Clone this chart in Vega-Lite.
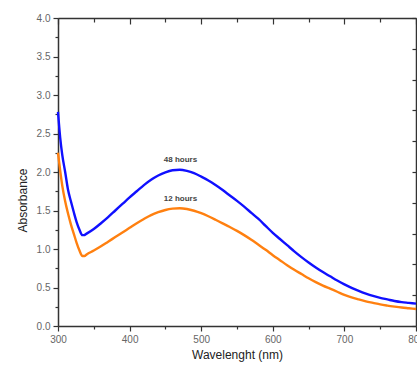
{
  "$schema": "https://vega.github.io/schema/vega-lite/v6.json",
  "width": 358,
  "height": 308,
  "autosize": {"type": "none"},
  "padding": {"left": 58, "top": 18, "right": 1, "bottom": 43},
  "background": "white",
  "config": {
    "view": {"stroke": null},
    "font": "Liberation Sans",
    "axis": {"domainColor": "#333", "domainWidth": 1.5, "tickColor": "#333", "tickWidth": 1.2, "labelColor": "#666", "labelFontSize": 10, "labelFlush": false, "labelOverlap": false, "labelFont": "Liberation Sans", "titleFont": "Liberation Sans", "titleFontSize": 12, "titleFontWeight": "normal", "titleColor": "#222", "grid": false}
  },
  "datasets": {
    "spectra": [
      {"wl": 300, "abs": 2.78, "series": "48 hours"},
      {"wl": 303, "abs": 2.45, "series": "48 hours"},
      {"wl": 306, "abs": 2.22, "series": "48 hours"},
      {"wl": 310, "abs": 2.0, "series": "48 hours"},
      {"wl": 314, "abs": 1.77, "series": "48 hours"},
      {"wl": 318, "abs": 1.62, "series": "48 hours"},
      {"wl": 322, "abs": 1.48, "series": "48 hours"},
      {"wl": 326, "abs": 1.35, "series": "48 hours"},
      {"wl": 330, "abs": 1.25, "series": "48 hours"},
      {"wl": 334, "abs": 1.18, "series": "48 hours"},
      {"wl": 336, "abs": 1.18, "series": "48 hours"},
      {"wl": 340, "abs": 1.2, "series": "48 hours"},
      {"wl": 350, "abs": 1.26, "series": "48 hours"},
      {"wl": 360, "abs": 1.335, "series": "48 hours"},
      {"wl": 370, "abs": 1.415, "series": "48 hours"},
      {"wl": 380, "abs": 1.5, "series": "48 hours"},
      {"wl": 390, "abs": 1.585, "series": "48 hours"},
      {"wl": 400, "abs": 1.67, "series": "48 hours"},
      {"wl": 410, "abs": 1.75, "series": "48 hours"},
      {"wl": 420, "abs": 1.83, "series": "48 hours"},
      {"wl": 430, "abs": 1.9, "series": "48 hours"},
      {"wl": 440, "abs": 1.955, "series": "48 hours"},
      {"wl": 450, "abs": 1.995, "series": "48 hours"},
      {"wl": 460, "abs": 2.022, "series": "48 hours"},
      {"wl": 470, "abs": 2.03, "series": "48 hours"},
      {"wl": 480, "abs": 2.015, "series": "48 hours"},
      {"wl": 490, "abs": 1.985, "series": "48 hours"},
      {"wl": 500, "abs": 1.94, "series": "48 hours"},
      {"wl": 510, "abs": 1.89, "series": "48 hours"},
      {"wl": 520, "abs": 1.83, "series": "48 hours"},
      {"wl": 530, "abs": 1.765, "series": "48 hours"},
      {"wl": 540, "abs": 1.695, "series": "48 hours"},
      {"wl": 550, "abs": 1.625, "series": "48 hours"},
      {"wl": 560, "abs": 1.55, "series": "48 hours"},
      {"wl": 570, "abs": 1.47, "series": "48 hours"},
      {"wl": 580, "abs": 1.39, "series": "48 hours"},
      {"wl": 590, "abs": 1.3, "series": "48 hours"},
      {"wl": 600, "abs": 1.21, "series": "48 hours"},
      {"wl": 610, "abs": 1.13, "series": "48 hours"},
      {"wl": 620, "abs": 1.05, "series": "48 hours"},
      {"wl": 630, "abs": 0.97, "series": "48 hours"},
      {"wl": 640, "abs": 0.895, "series": "48 hours"},
      {"wl": 650, "abs": 0.825, "series": "48 hours"},
      {"wl": 660, "abs": 0.76, "series": "48 hours"},
      {"wl": 670, "abs": 0.7, "series": "48 hours"},
      {"wl": 680, "abs": 0.645, "series": "48 hours"},
      {"wl": 690, "abs": 0.59, "series": "48 hours"},
      {"wl": 700, "abs": 0.54, "series": "48 hours"},
      {"wl": 710, "abs": 0.495, "series": "48 hours"},
      {"wl": 720, "abs": 0.455, "series": "48 hours"},
      {"wl": 730, "abs": 0.42, "series": "48 hours"},
      {"wl": 740, "abs": 0.39, "series": "48 hours"},
      {"wl": 750, "abs": 0.365, "series": "48 hours"},
      {"wl": 760, "abs": 0.345, "series": "48 hours"},
      {"wl": 770, "abs": 0.325, "series": "48 hours"},
      {"wl": 780, "abs": 0.31, "series": "48 hours"},
      {"wl": 790, "abs": 0.3, "series": "48 hours"},
      {"wl": 800, "abs": 0.29, "series": "48 hours"},
      {"wl": 300, "abs": 2.25, "series": "12 hours"},
      {"wl": 303, "abs": 2.02, "series": "12 hours"},
      {"wl": 306, "abs": 1.82, "series": "12 hours"},
      {"wl": 310, "abs": 1.62, "series": "12 hours"},
      {"wl": 314, "abs": 1.46, "series": "12 hours"},
      {"wl": 318, "abs": 1.32, "series": "12 hours"},
      {"wl": 322, "abs": 1.2, "series": "12 hours"},
      {"wl": 326, "abs": 1.08, "series": "12 hours"},
      {"wl": 330, "abs": 0.98, "series": "12 hours"},
      {"wl": 334, "abs": 0.91, "series": "12 hours"},
      {"wl": 337, "abs": 0.91, "series": "12 hours"},
      {"wl": 340, "abs": 0.93, "series": "12 hours"},
      {"wl": 350, "abs": 0.98, "series": "12 hours"},
      {"wl": 360, "abs": 1.035, "series": "12 hours"},
      {"wl": 370, "abs": 1.095, "series": "12 hours"},
      {"wl": 380, "abs": 1.155, "series": "12 hours"},
      {"wl": 390, "abs": 1.215, "series": "12 hours"},
      {"wl": 400, "abs": 1.275, "series": "12 hours"},
      {"wl": 410, "abs": 1.335, "series": "12 hours"},
      {"wl": 420, "abs": 1.39, "series": "12 hours"},
      {"wl": 430, "abs": 1.44, "series": "12 hours"},
      {"wl": 440, "abs": 1.478, "series": "12 hours"},
      {"wl": 450, "abs": 1.507, "series": "12 hours"},
      {"wl": 460, "abs": 1.524, "series": "12 hours"},
      {"wl": 470, "abs": 1.53, "series": "12 hours"},
      {"wl": 480, "abs": 1.52, "series": "12 hours"},
      {"wl": 490, "abs": 1.497, "series": "12 hours"},
      {"wl": 500, "abs": 1.465, "series": "12 hours"},
      {"wl": 510, "abs": 1.425, "series": "12 hours"},
      {"wl": 520, "abs": 1.38, "series": "12 hours"},
      {"wl": 530, "abs": 1.333, "series": "12 hours"},
      {"wl": 540, "abs": 1.285, "series": "12 hours"},
      {"wl": 550, "abs": 1.235, "series": "12 hours"},
      {"wl": 560, "abs": 1.18, "series": "12 hours"},
      {"wl": 570, "abs": 1.12, "series": "12 hours"},
      {"wl": 580, "abs": 1.055, "series": "12 hours"},
      {"wl": 590, "abs": 0.99, "series": "12 hours"},
      {"wl": 600, "abs": 0.92, "series": "12 hours"},
      {"wl": 610, "abs": 0.855, "series": "12 hours"},
      {"wl": 620, "abs": 0.79, "series": "12 hours"},
      {"wl": 630, "abs": 0.73, "series": "12 hours"},
      {"wl": 640, "abs": 0.675, "series": "12 hours"},
      {"wl": 650, "abs": 0.62, "series": "12 hours"},
      {"wl": 660, "abs": 0.57, "series": "12 hours"},
      {"wl": 670, "abs": 0.525, "series": "12 hours"},
      {"wl": 680, "abs": 0.485, "series": "12 hours"},
      {"wl": 690, "abs": 0.445, "series": "12 hours"},
      {"wl": 700, "abs": 0.405, "series": "12 hours"},
      {"wl": 710, "abs": 0.372, "series": "12 hours"},
      {"wl": 720, "abs": 0.345, "series": "12 hours"},
      {"wl": 730, "abs": 0.32, "series": "12 hours"},
      {"wl": 740, "abs": 0.3, "series": "12 hours"},
      {"wl": 750, "abs": 0.28, "series": "12 hours"},
      {"wl": 760, "abs": 0.265, "series": "12 hours"},
      {"wl": 770, "abs": 0.252, "series": "12 hours"},
      {"wl": 780, "abs": 0.24, "series": "12 hours"},
      {"wl": 790, "abs": 0.23, "series": "12 hours"},
      {"wl": 800, "abs": 0.22, "series": "12 hours"}
    ],
    "labels": [
      {"wl": 471, "abs": 2.15, "text": "48 hours"},
      {"wl": 471, "abs": 1.645, "text": "12 hours"}
    ]
  },
  "resolve": {"axis": {"x": "independent", "y": "independent"}},
  "layer": [
    {
      "data": {"name": "spectra"},
      "mark": {"type": "line", "strokeWidth": 2.4, "interpolate": "monotone"},
      "encoding": {
        "x": {"field": "wl", "type": "quantitative", "scale": {"domain": [300, 800], "nice": false, "zero": false},
          "axis": {"orient": "bottom", "values": [300, 400, 500, 600, 700, 800], "tickSize": 5, "labelPadding": 3, "title": "Wavelenght (nm)", "titlePadding": 5}},
        "y": {"field": "abs", "type": "quantitative", "scale": {"domain": [0, 4], "nice": false},
          "axis": {"orient": "left", "values": [0, 0.5, 1, 1.5, 2, 2.5, 3, 3.5, 4], "format": ".1f", "tickSize": 5, "labelPadding": 3, "title": "Absorbance", "titlePadding": 7, "titleY": 182}},
        "color": {"field": "series", "type": "nominal", "scale": {"domain": ["48 hours", "12 hours"], "range": ["#1010ff", "#ff8010"]}, "legend": null},
        "detail": {"field": "series"}
      }
    },
    {
      "data": {"name": "labels"},
      "mark": {"type": "text", "fontSize": 8, "fontWeight": "bold", "color": "#444", "font": "Liberation Sans"},
      "encoding": {
        "x": {"field": "wl", "type": "quantitative", "axis": null},
        "y": {"field": "abs", "type": "quantitative", "axis": null},
        "text": {"field": "text"}
      }
    },
    {
      "data": {"name": "labels"},
      "mark": {"type": "point", "opacity": 0},
      "encoding": {
        "x": {"field": "wl", "type": "quantitative",
          "axis": {"orient": "bottom", "values": [350, 450, 550, 650, 750], "tickSize": 3, "labels": false, "domain": false, "title": null}},
        "y": {"field": "abs", "type": "quantitative",
          "axis": {"orient": "left", "values": [0.25, 0.75, 1.25, 1.75, 2.25, 2.75, 3.25, 3.75], "tickSize": 3, "labels": false, "domain": false, "title": null}}
      }
    },
    {
      "data": {"name": "labels"},
      "mark": {"type": "point", "opacity": 0},
      "encoding": {
        "x": {"field": "wl", "type": "quantitative",
          "axis": {"orient": "top", "values": [300, 400, 500, 600, 700, 800], "tickSize": -6, "labels": false, "title": null}},
        "y": {"field": "abs", "type": "quantitative",
          "axis": {"orient": "right", "values": [0, 0.4, 0.8, 1.2, 1.6, 2.0, 2.4, 2.8, 3.2, 3.6, 4.0], "tickSize": -4, "labels": false, "title": null}}
      }
    },
    {
      "data": {"name": "labels"},
      "mark": {"type": "point", "opacity": 0},
      "encoding": {
        "x": {"field": "wl", "type": "quantitative",
          "axis": {"orient": "top", "values": [350, 450, 550, 650, 750], "tickSize": -4, "labels": false, "domain": false, "title": null}},
        "y": {"field": "abs", "type": "quantitative", "axis": null}
      }
    }
  ]
}
